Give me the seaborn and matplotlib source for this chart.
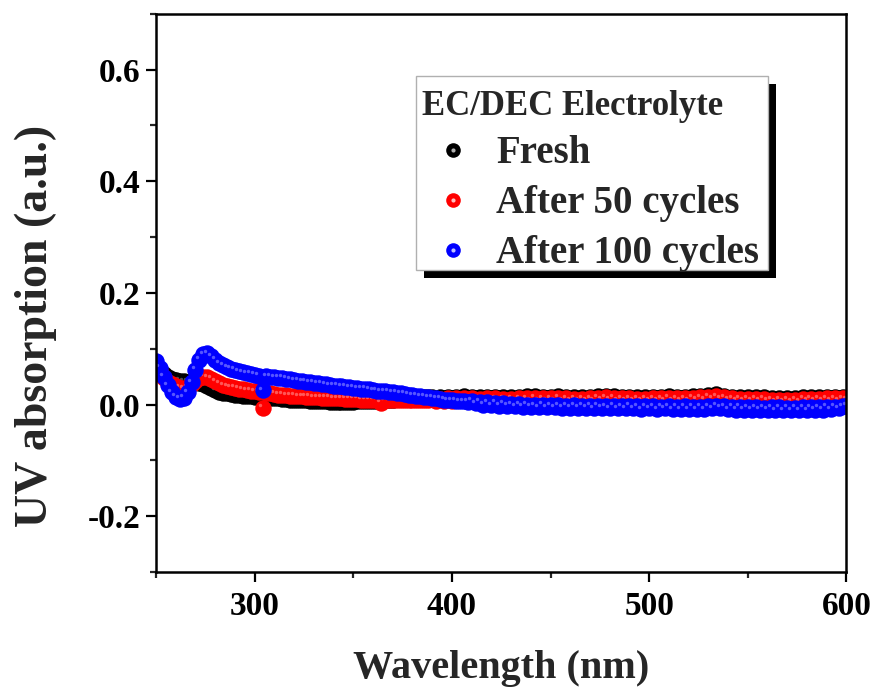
import matplotlib
matplotlib.use('Agg')
import matplotlib.pyplot as plt
import numpy as np
import seaborn as sns
from matplotlib.lines import Line2D
from matplotlib.patches import Rectangle
from matplotlib.ticker import MultipleLocator, FormatStrFormatter
from matplotlib.transforms import offset_copy, IdentityTransform

# wavelength grid (nm), one reading every 2 nm
wavelength = np.arange(250, 601, 2)

fresh = [
    0.070, 0.062, 0.054, 0.049, 0.046, 0.044, 0.043, 0.042, 0.041, 0.041,
    0.040, 0.039, 0.037, 0.034, 0.030, 0.026, 0.023, 0.021, 0.020, 0.019,
    0.018, 0.017, 0.016, 0.016, 0.015, 0.014, 0.014, 0.013, 0.012, 0.012,
    0.011, 0.011, 0.010, 0.010, 0.009, 0.009, 0.008, 0.008, 0.008, 0.007,
    0.007, 0.006, 0.006, 0.006, 0.005, 0.005, 0.005, 0.005, 0.005, 0.005,
    0.005, 0.006, 0.006, 0.006, 0.007, 0.007, 0.007, 0.008, 0.008, 0.009,
    0.009, 0.010, 0.010, 0.011, 0.011, 0.012, 0.012, 0.012, 0.013, 0.013,
    0.013, 0.010, 0.014, 0.011, 0.014, 0.011, 0.014, 0.011, 0.015, 0.011,
    0.014, 0.011, 0.013, 0.010, 0.014, 0.011, 0.014, 0.011, 0.013, 0.010,
    0.013, 0.010, 0.014, 0.011, 0.015, 0.011, 0.015, 0.011, 0.014, 0.011,
    0.014, 0.011, 0.015, 0.011, 0.014, 0.010, 0.013, 0.010, 0.013, 0.010,
    0.014, 0.011, 0.016, 0.012, 0.016, 0.012, 0.015, 0.011, 0.014, 0.011,
    0.014, 0.010, 0.013, 0.010, 0.013, 0.010, 0.014, 0.011, 0.014, 0.011,
    0.015, 0.011, 0.014, 0.011, 0.014, 0.011, 0.015, 0.012, 0.016, 0.012,
    0.018, 0.014, 0.019, 0.014, 0.016, 0.012, 0.014, 0.010, 0.013, 0.010,
    0.013, 0.010, 0.013, 0.010, 0.013, 0.010, 0.012, 0.009, 0.012, 0.009,
    0.012, 0.009, 0.012, 0.009, 0.013, 0.010, 0.013, 0.010, 0.013, 0.010,
    0.014, 0.011, 0.014, 0.011, 0.014, 0.012,
]

cycles_50 = [
    0.070, 0.060, 0.048, 0.041, 0.036, 0.033, 0.030, 0.029, 0.031, 0.036,
    0.042, 0.047, 0.050, 0.049, 0.046, 0.042, 0.038, 0.035, 0.033, 0.031,
    0.030, 0.028, 0.027, 0.026, 0.025, 0.024, 0.023, -0.006, 0.021, 0.020,
    0.019, 0.018, 0.018, 0.017, 0.016, 0.016, 0.015, 0.015, 0.014, 0.014,
    0.013, 0.013, 0.012, 0.012, 0.012, 0.011, 0.011, 0.011, 0.010, 0.010,
    0.010, 0.010, 0.009, 0.009, 0.009, 0.009, 0.009, 0.003, 0.008, 0.008,
    0.008, 0.008, 0.008, 0.008, 0.008, 0.008, 0.008, 0.009, 0.009, 0.009,
    0.010, 0.007, 0.010, 0.007, 0.011, 0.007, 0.011, 0.008, 0.011, 0.008,
    0.011, 0.008, 0.010, 0.007, 0.011, 0.008, 0.011, 0.007, 0.010, 0.007,
    0.010, 0.007, 0.011, 0.008, 0.011, 0.008, 0.012, 0.008, 0.011, 0.008,
    0.011, 0.008, 0.012, 0.008, 0.011, 0.007, 0.010, 0.007, 0.010, 0.007,
    0.011, 0.008, 0.012, 0.009, 0.013, 0.009, 0.012, 0.008, 0.011, 0.008,
    0.011, 0.007, 0.010, 0.007, 0.010, 0.007, 0.011, 0.008, 0.011, 0.008,
    0.012, 0.008, 0.011, 0.008, 0.011, 0.008, 0.012, 0.009, 0.013, 0.009,
    0.014, 0.010, 0.015, 0.010, 0.013, 0.009, 0.011, 0.007, 0.010, 0.007,
    0.010, 0.007, 0.010, 0.007, 0.010, 0.007, 0.009, 0.006, 0.009, 0.006,
    0.009, 0.006, 0.009, 0.006, 0.010, 0.007, 0.010, 0.007, 0.010, 0.007,
    0.011, 0.008, 0.011, 0.008, 0.011, 0.009,
]

cycles_100 = [
    0.078, 0.066, 0.050, 0.035, 0.022, 0.014, 0.010, 0.012, 0.022, 0.040,
    0.062, 0.080, 0.090, 0.092, 0.087, 0.080, 0.074, 0.070, 0.067, 0.064,
    0.062, 0.060, 0.058, 0.056, 0.055, 0.053, 0.052, 0.026, 0.051, 0.050,
    0.049, 0.048, 0.048, 0.046, 0.045, 0.044, 0.043, 0.042, 0.041, 0.040,
    0.039, 0.038, 0.037, 0.036, 0.035, 0.034, 0.034, 0.033, 0.032, 0.031,
    0.030, 0.029, 0.028, 0.028, 0.027, 0.026, 0.025, 0.024, 0.024, 0.023,
    0.022, 0.021, 0.020, 0.019, 0.018, 0.017, 0.016, 0.015, 0.014, 0.013,
    0.012, 0.011, 0.010, 0.009, 0.008, 0.008, 0.007, 0.006, 0.006, 0.005,
    0.007, 0.002, 0.005, 0.000, 0.004, -0.001, 0.003, -0.002, 0.002, -0.002,
    0.001, -0.003, 0.001, -0.004, 0.000, -0.004, -0.001, -0.005, 0.000, -0.005,
    -0.001, -0.005, -0.001, -0.006, -0.002, -0.006, -0.001, -0.006, -0.002, -0.006,
    -0.002, -0.007, -0.002, -0.006, -0.003, -0.007, -0.002, -0.007, -0.003, -0.007,
    -0.002, -0.007, -0.003, -0.008, -0.003, -0.007, -0.003, -0.008, -0.004, -0.007,
    -0.003, -0.008, -0.004, -0.008, -0.003, -0.008, -0.004, -0.008, -0.004, -0.008,
    -0.003, -0.007, -0.002, -0.006, -0.003, -0.008, -0.004, -0.009, -0.004, -0.009,
    -0.005, -0.009, -0.005, -0.009, -0.006, -0.009, -0.005, -0.010, -0.005, -0.010,
    -0.006, -0.010, -0.006, -0.010, -0.005, -0.010, -0.005, -0.009, -0.005, -0.009,
    -0.004, -0.008, -0.004, -0.007, -0.003, -0.002,
]

series_names = ['Fresh', 'After 50 cycles', 'After 100 cycles']
series_values = [fresh, cycles_50, cycles_100]
series_colors = ['#000000', '#ff0000', '#0000ff']
shine_colors = ['#b0b0b0', '#ffc0c0', '#c0c0ff']

sns.set_style('ticks')
plt.rcParams['font.family'] = ['Liberation Serif', 'DejaVu Serif']
plt.rcParams['font.weight'] = 'bold'
plt.rcParams['axes.unicode_minus'] = False

fig = plt.figure(figsize=(8.79, 6.93), dpi=100)
ax = fig.add_axes([0.1775, 0.1746, 0.7855, 0.8054])

# sphere-like markers: a solid dot plus a faint light spot up-left
shine = offset_copy(ax.transData, fig=fig, x=-2.5, y=2.5, units='dots')
for vals, c, sc in zip(series_values, series_colors, shine_colors):
    sns.scatterplot(x=wavelength, y=vals, color=c, s=140, linewidth=0,
                    ax=ax, legend=False, zorder=2)
    ax.scatter(wavelength, vals, s=6, color=sc, linewidth=0, alpha=0.45,
               transform=shine, zorder=2)

ax.set_xlim(250, 600)
ax.set_ylim(-0.3, 0.7)
ax.xaxis.set_major_locator(MultipleLocator(100))
ax.xaxis.set_minor_locator(MultipleLocator(50))
ax.yaxis.set_major_locator(MultipleLocator(0.2))
ax.yaxis.set_minor_locator(MultipleLocator(0.1))
ax.yaxis.set_major_formatter(FormatStrFormatter('%.1f'))

for sp in ax.spines.values():
    sp.set_linewidth(1.8)
    sp.set_color('black')
ax.tick_params(which='major', direction='out', length=7, width=1.6,
               labelsize=24, colors='black')
ax.tick_params(which='minor', direction='out', length=4, width=1.6)
ax.tick_params(axis='x', which='major', pad=7)
ax.tick_params(axis='y', which='major', pad=4)

ax.set_xlabel('Wavelength (nm)', fontsize=29, fontweight='bold', labelpad=20)
ax.set_ylabel('UV absorption (a.u.)', fontsize=33, fontweight='bold')
ax.yaxis.set_label_coords(-0.144, 0.44)

handles = [(Line2D([], [], ls='none', marker='o', ms=10.5, mfc=c, mec='none'),
            Line2D([], [], ls='none', marker='o', ms=3, mfc=sc, mec='none'))
           for c, sc in zip(series_colors, shine_colors)]
leg = ax.legend(handles, series_names, title='EC/DEC Electrolyte',
                loc='upper left', bbox_to_anchor=(0.377, 0.8747),
                borderaxespad=0, frameon=False,
                prop={'size': 28, 'weight': 'bold'},
                title_fontproperties={'size': 25, 'weight': 'bold'},
                alignment='left', handlelength=1.6, handletextpad=0.3,
                labelspacing=0.33, borderpad=0.15)
leg.set_zorder(5)

# legend frame and its drop shadow, drawn as patches (frame sits a bit higher
# than the packed entries, like the original)
fig.canvas.draw()
bb = leg.get_window_extent()
ax.add_patch(Rectangle((bb.x0 + 8, bb.y0), bb.width + 3, bb.height,
                       transform=IdentityTransform(), facecolor='black',
                       edgecolor='none', clip_on=False, zorder=4.5))
ax.add_patch(Rectangle((bb.x0, bb.y0 + 8), bb.width + 3, bb.height,
                       transform=IdentityTransform(), facecolor='white',
                       edgecolor='#b0b0b0', linewidth=1.0, clip_on=False,
                       zorder=4.8))

fig.savefig('out.png', dpi=100)
